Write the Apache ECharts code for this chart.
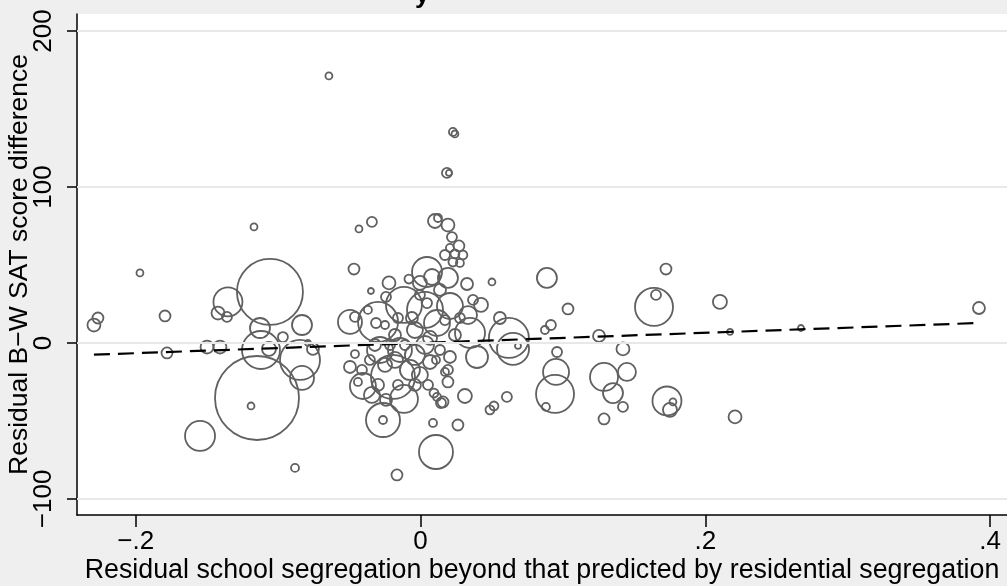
<!DOCTYPE html>
<html><head><meta charset="utf-8">
<script src="https://cdn.jsdelivr.net/npm/echarts@6/dist/echarts.min.js"></script>
<style>html,body{margin:0;padding:0;background:#efefef}#c{width:1007px;height:586px}</style>
</head><body><div id="c"></div>
<script>
// Residual school segregation (x)
const segResid = [
 -0.0643,0.0228,0.0242,0.0186,0.0200,
 -0.2293,-0.2265,-0.1970,-0.1794,-0.1780,
 -0.1169,-0.1352,-0.1422,-0.1359,-0.1057,
 -0.1127,-0.1120,-0.1064,-0.0966,-0.0832,
 -0.1148,-0.1190,-0.0846,-0.0832,-0.0755,
 -0.0790,-0.1548,-0.1499,-0.1408,-0.0881,
 -0.0432,-0.0341,-0.0467,-0.0495,-0.0460,
 -0.0369,-0.0348,-0.0242,-0.0221,-0.0298,
 -0.0312,-0.0249,-0.0116,0.0032,-0.0081,
 -0.0004,0.0046,0.0081,0.0193,0.0123,
 0.0102,0.0193,0.0221,0.0270,0.0207,
 0.0172,0.0242,0.0298,0.0277,0.0228,
 0.0327,0.0502,0.0888,0.0369,0.0425,
 0.0207,0.0116,0.0137,0.0046,0.0172,
 -0.0039,-0.0179,0.0067,0.0242,0.0277,
 -0.0004,-0.0158,-0.0060,0.0558,0.0348,
 0.0397,0.0621,0.0650,0.0685,0.0874,
 0.0916,0.0959,0.0952,0.0945,0.0881,
 0.1036,0.0607,0.0488,0.0516,0.0263,
 0.0312,0.0158,0.0193,0.0193,0.0172,
 0.0207,0.0144,0.0095,0.0116,0.0109,
 0.0088,-0.0165,-0.0263,-0.0263,-0.0116,
 -0.0404,-0.0439,-0.0460,-0.0495,
 -0.0193,-0.0284,-0.0144,-0.0039,0.0032,
 -0.0074,-0.0179,-0.0249,-0.0004,0.0067,
 -0.0320,-0.0109,-0.0355,-0.0214,-0.0039,
 0.0053,-0.0298,-0.0158,0.0137,0.0109,
 -0.0411,-0.0341,-0.0242,
 0.1254,0.1422,0.1289,0.1450,0.1352,
 0.1422,0.1289,0.1640,0.1654,0.1724,
 0.2103,0.2174,0.2672,0.3922,0.1731,
 0.1773,0.1752,0.2209,0.0334
];
// Residual B-W SAT score difference (y)
const satResid = [
 171.2,135.3,134.0,109.0,109.0,
 11.5,16.0,44.9,17.3,-6.4,
 74.4,26.3,19.2,16.7,32.7,
 9.6,-4.5,-3.8,3.8,11.5,
 -35.3,-40.4,-10.9,-22.4,-3.8,
 0.0,-59.6,-2.6,-2.6,-80.1,
 73.1,77.6,47.4,13.5,16.7,
 21.2,33.3,29.5,38.5,13.5,
 12.8,11.5,24.4,21.2,41.0,
 38.5,45.5,42.3,41.7,80.1,
 78.2,75.6,67.9,62.2,60.9,
 56.4,57.1,56.4,51.3,51.9,
 37.8,39.1,41.7,27.6,24.4,
 23.7,12.8,34.0,25.6,14.7,
 8.3,5.1,3.2,5.1,16.0,
 30.8,16.0,16.0,16.0,6.4,
 -9.0,3.2,-3.8,-1.9,8.3,
 11.5,-5.8,-18.6,-32.7,-41.0,
 21.8,-34.6,-42.9,-40.4,-52.6,
 -34.0,-37.8,-25.0,-17.3,-18.6,
 -9.0,-38.5,-32.1,-34.6,-69.9,
 -51.3,-84.6,-49.4,-49.4,-35.9,
 -27.6,-25.0,-7.1,-15.4,
 -21.8,-4.5,-4.5,-7.7,-1.3,
 -17.3,-10.9,-14.1,-20.5,-12.2,
 -1.3,-1.3,-10.9,-1.3,-26.9,
 -26.9,-26.9,-26.9,-4.5,-10.9,
 -17.3,-33.3,-36.5,
 4.5,-3.8,-21.8,-18.6,-32.1,
 -41.0,-48.7,23.1,30.8,47.4,
 26.3,7.1,9.6,22.4,-37.2,
 -37.8,-42.9,-47.4,17.9
];
// analytic weights (marker area)
const weights = [
 12,16,12,25,9,
 42,30,12,30,30,
 12,210,42,25,1089,
 100,361,49,25,100,
 1764,12,400,144,36,
 9,225,42,42,16,
 12,25,30,144,25,
 16,9,25,42,400,
 25,16,324,324,20,
 49,225,64,100,16,
 49,42,25,30,16,
 25,20,20,16,20,
 36,12,100,25,49,
 169,169,36,25,25,
 64,36,49,36,25,
 25,25,36,36,225,
 121,400,256,9,16,
 25,25,169,361,16,
 30,25,20,20,30,
 49,30,30,25,16,
 36,25,20,16,289,
 16,30,289,16,196,
 169,16,16,36,
 484,169,144,100,81,
 100,64,49,64,49,
 36,25,25,25,36,
 25,36,25,25,16,
 25,64,36,
 36,42,196,81,100,
 25,30,361,25,30,
 49,9,9,36,210,
 12,49,42,81
];
// fitted regression line endpoints
const fitX = [-0.2293, 0.3922];
const fitY = [-7.5, 12.8];
// axis ticks
const xTicks = [-0.2, 0, 0.2, 0.4];
const xTickLabels = ['\u2212.2', '0', '.2', '.4'];
const yTicks = [-100, 0, 100, 200];
const yTickLabels = ['\u2212100', '0', '100', '200'];
const xTitle = 'Residual school segregation beyond that predicted by residential segregation';
const yTitle = 'Residual B\u2212W SAT score difference';

const FONT = '"Liberation Sans", Arial, Helvetica, sans-serif';
function lab(ticks, labels) {
  return v => { const i = ticks.findIndex(t => Math.abs(t - v) < 1e-9); return i >= 0 ? labels[i] : ''; };
}
const pts = segResid.map((x, i) => [x, satResid[i], weights[i]]);

const chart = echarts.init(document.getElementById('c'), null, {renderer: 'canvas'});
chart.setOption({
  animation: false,
  backgroundColor: '#efefef',
  textStyle: {fontFamily: FONT},
  graphic: [{
    type: 'text', left: 415, top: -17, silent: true,
    style: {text: 'y', font: 'bold 26px ' + FONT, fill: '#000'}
  }],
  grid: {left: 77, right: 0, top: 14, bottom: 71, show: true, backgroundColor: '#ffffff', borderWidth: 0,
         containLabel: false, outerBoundsMode: 'none'},
  xAxis: {
    type: 'value', min: -0.2412, max: 0.4119,
    name: xTitle, nameLocation: 'middle', nameGap: 42, nameMoveOverlap: false,
    nameTextStyle: {fontSize: 26.8, color: '#000', fontFamily: FONT},
    axisLine: {show: true, onZero: false, lineStyle: {color: '#000', width: 1.5}},
    axisTick: {show: true, length: 12, customValues: xTicks, lineStyle: {color: '#000', width: 1.5}},
    axisLabel: {show: true, customValues: xTicks, formatter: lab(xTicks, xTickLabels), fontSize: 26, color: '#000', margin: 14, fontFamily: FONT},
    splitLine: {show: false}
  },
  yAxis: {
    type: 'value', min: -110.3, max: 210.9,
    name: yTitle, nameLocation: 'middle', nameGap: 44, nameMoveOverlap: false,
    nameTextStyle: {fontSize: 26.5, color: '#000', fontFamily: FONT},
    axisLine: {show: true, onZero: false, lineStyle: {color: '#000', width: 1.5}},
    axisTick: {show: true, length: 10, customValues: yTicks, lineStyle: {color: '#000', width: 1.5}},
    axisLabel: {show: true, customValues: yTicks, formatter: lab(yTicks, yTickLabels), rotate: 90, fontSize: 26, color: '#000', margin: 20, fontFamily: FONT},
    splitLine: {show: false}
  },
  series: [
    {
      type: 'line', data: [], z: 1, silent: true,
      markLine: {
        silent: true, symbol: 'none', label: {show: false},
        lineStyle: {color: '#e8e8e8', width: 2, type: 'solid'},
        data: yTicks.map(v => ({yAxis: v}))
      }
    },
    {
      type: 'scatter', z: 2, silent: true,
      data: pts,
      symbol: 'circle',
      symbolSize: v => 2 * Math.sqrt(v[2]),
      itemStyle: {color: 'rgba(0,0,0,0)', borderColor: '#606060', borderWidth: 1.8, opacity: 1},
      emphasis: {disabled: true}
    },
    {
      type: 'line', z: 3, silent: true,
      data: fitX.map((x, i) => [x, fitY[i]]),
      showSymbol: false, symbol: 'none',
      lineStyle: {color: '#000', width: 2.2, type: [16, 8]}
    }
  ]
});
</script>
</body></html>
